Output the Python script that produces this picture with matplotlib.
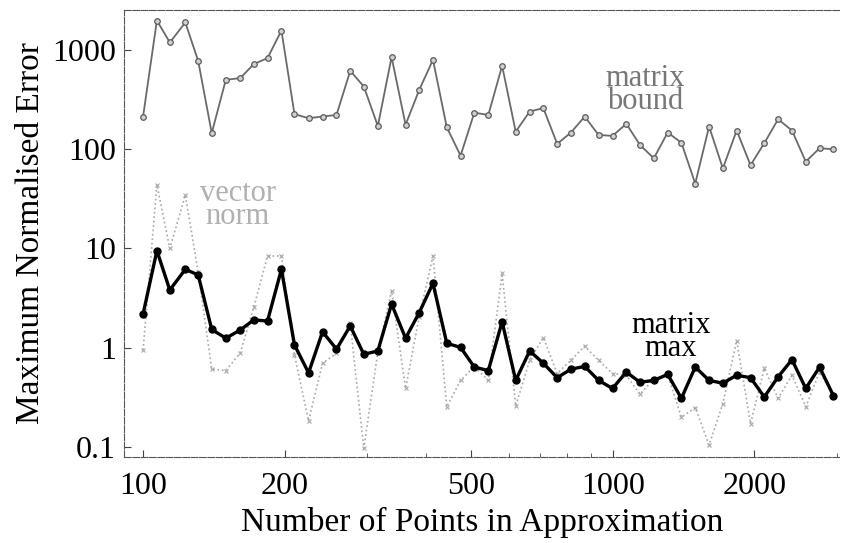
#!/usr/bin/env python3
"""
Max normalised error vs number of points (log-log), three estimators.
"""
import matplotlib
matplotlib.use('Agg')
import matplotlib.pyplot as plt
from matplotlib.ticker import FixedLocator, NullLocator, FixedFormatter

n_points = [100, 107, 114, 123, 131, 140, 150, 161, 172, 184,
            197, 210, 225, 241, 258, 276, 295, 316, 338, 362,
            387, 414, 443, 474, 507, 543, 581, 621, 665, 711,
            761, 814, 871, 932, 998, 1068, 1142, 1222, 1308, 1399,
            1497, 1602, 1714, 1834, 1963, 2100, 2247, 2405, 2573, 2753,
            2946]

matrix_bound = [213, 1973, 1185, 1884, 774, 145, 499, 519, 718, 825,
                1564, 225, 205, 213, 221, 614, 427, 171, 844, 176,
                395, 793, 166, 86, 233, 221, 690, 150, 239, 259,
                113, 147, 213, 139, 136, 180, 110, 81, 147, 116,
                45, 169, 64, 154, 69, 115, 200, 154, 75, 102,
                100]

vector_norm = [0.95, 43.6, 10.0, 34.6, 5.8, 0.61, 0.59, 0.89, 2.55, 8.4,
               8.4, 0.85, 0.184, 0.70, 0.88, 1.76, 0.097, 0.91, 3.76, 0.39,
               2.06, 8.4, 0.255, 0.47, 0.65, 0.47, 5.6, 0.26, 0.75, 1.27,
               0.55, 0.75, 1.04, 0.75, 0.55, 0.53, 0.34, 0.49, 0.53, 0.20,
               0.25, 0.105, 0.275, 1.18, 0.173, 0.62, 0.31, 0.53, 0.255, 0.57,
               0.33]

matrix_max = [2.19, 9.5, 3.82, 6.17, 5.41, 1.53, 1.25, 1.51, 1.91, 1.86,
              6.17, 1.07, 0.56, 1.45, 0.97, 1.66, 0.86, 0.93, 2.76, 1.25,
              2.26, 4.46, 1.11, 1.01, 0.64, 0.59, 1.83, 0.47, 0.93, 0.70,
              0.50, 0.61, 0.65, 0.47, 0.39, 0.57, 0.45, 0.47, 0.54, 0.31,
              0.64, 0.47, 0.44, 0.53, 0.50, 0.32, 0.51, 0.76, 0.39, 0.64,
              0.33]

x_ticks = [100, 200, 500, 1000, 2000]
x_minor = [300, 400, 600, 700, 800, 900, 3000]
y_ticks = [0.1, 1, 10, 100, 1000]
y_labels = ['0.1', '1', '10', '100', '1000']

SERIF = ['Liberation Serif', 'DejaVu Serif']


def main():
    plt.rcParams['font.family'] = SERIF
    fig = plt.figure(figsize=(8.44, 5.43), dpi=100)
    ax = fig.add_axes([0.147, 0.158, 0.848, 0.824])

    ax.plot(n_points, vector_norm, color='#a8a8a8', linestyle=':', linewidth=1.2,
            marker='x', markersize=3.5, markeredgewidth=0.8, zorder=2)
    ax.plot(n_points, matrix_bound, color='#6a6a6a', linewidth=1.3,
            marker='o', markersize=4, markerfacecolor='#d0d0d0',
            markeredgecolor='#5a5a5a', markeredgewidth=0.9, zorder=3)
    ax.plot(n_points, matrix_max, color='black', linewidth=2.4,
            marker='o', markersize=5, zorder=4)

    ax.set_xscale('log'); ax.set_yscale('log')
    ax.set_xlim(91.1, 3040)
    ax.set_ylim(0.0792, 2530)

    ax.xaxis.set_major_locator(FixedLocator(x_ticks))
    ax.xaxis.set_major_formatter(FixedFormatter([str(t) for t in x_ticks]))
    ax.xaxis.set_minor_locator(FixedLocator(x_minor))
    ax.yaxis.set_major_locator(FixedLocator(y_ticks))
    ax.yaxis.set_major_formatter(FixedFormatter(y_labels))
    ax.yaxis.set_minor_locator(NullLocator())
    ax.tick_params(which='both', direction='in', color='#444444', labelsize=23)
    ax.tick_params(axis='x', which='major', length=5, width=0.8, pad=11)
    ax.tick_params(axis='y', which='major', length=5, width=0.8, pad=6)
    ax.tick_params(which='minor', length=3, width=0.6)

    for side in ('left', 'bottom', 'top'):
        ax.spines[side].set_color('#555555')
        ax.spines[side].set_linewidth(0.8)
        ax.spines[side].set_linestyle((0, (6, 1.5)))
    ax.spines['right'].set_visible(False)

    ax.set_xlabel('Number of Points in Approximation', fontsize=24, labelpad=4)
    ax.set_ylabel('Maximum Normalised Error', fontsize=24, labelpad=4)

    ax.text(1170, 395, 'matrix\nbound', color='#777777', fontsize=22,
            ha='center', va='center', linespacing=0.75)
    ax.text(159, 27.4, 'vector\nnorm', color='#b0b0b0', fontsize=22,
            ha='center', va='center', linespacing=0.75)
    ax.text(1328, 1.28, 'matrix\nmax', color='black', fontsize=22,
            ha='center', va='center', linespacing=0.75)

    fig.savefig('out.png', dpi=100)
    plt.close(fig)


if __name__ == '__main__':
    main()
